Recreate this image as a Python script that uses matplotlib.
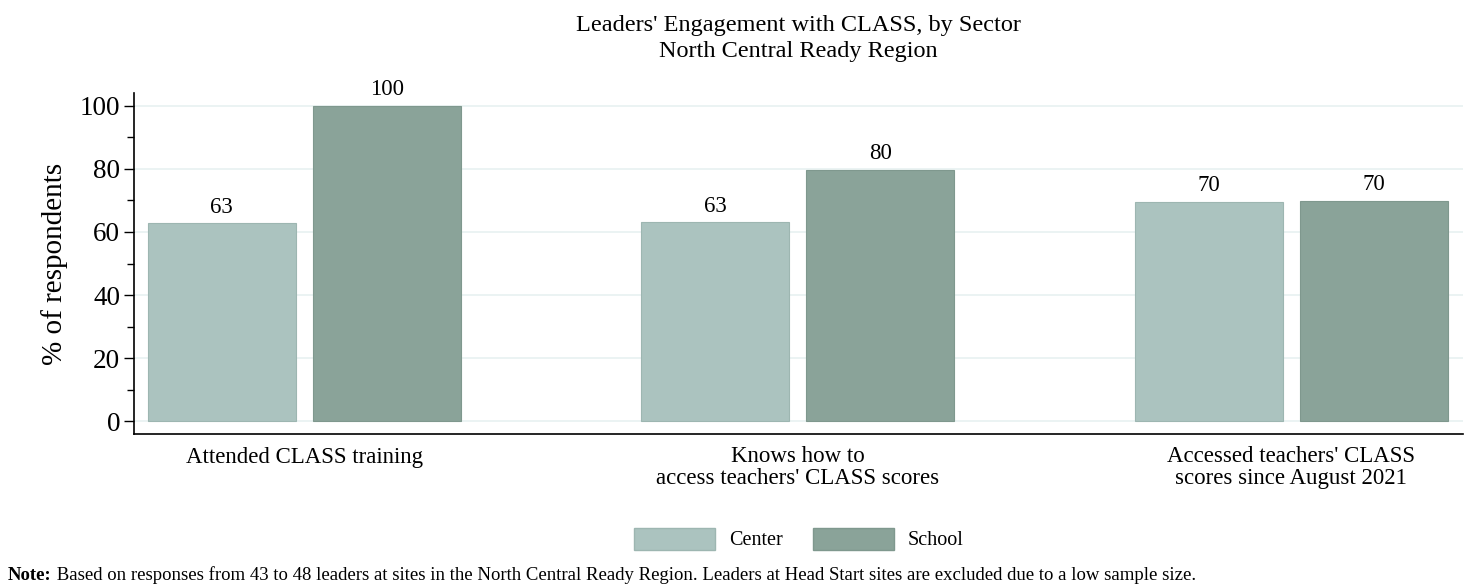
import numpy as np
import matplotlib
matplotlib.use("Agg")
import matplotlib.pyplot as plt
from matplotlib.patches import Patch

plt.rcParams['font.family'] = ['Liberation Serif', 'DejaVu Serif']

# data
categories = ["Attended CLASS training",
              "Knows how to\naccess teachers' CLASS scores",
              "Accessed teachers' CLASS\nscores since August 2021"]
center_vals = [62.7, 63.0, 69.6]
school_vals = [100.0, 79.7, 69.9]
series_names = ["Center", "School"]
note_head = "Note:"
note_body = (" Based on responses from 43 to 48 leaders at sites in the North Central Ready Region. "
             "Leaders at Head Start sites are excluded due to a low sample size.")

c_center = "#abc3bf"
c_school = "#8aa399"

W, H = 1473, 586
fig = plt.figure(figsize=(W/100, H/100), dpi=100)
ax = fig.add_axes([134/W, 1 - 434/H, (1463-134)/W, (434-93)/H])

x = np.arange(len(categories))
bw = 0.30
off = 0.167
b1 = ax.bar(x - off, center_vals, bw, color=c_center, edgecolor="#9db6b1", linewidth=0.8, zorder=2)
b2 = ax.bar(x + off, school_vals, bw, color=c_school, edgecolor="#7f988e", linewidth=0.8, zorder=2)

for bars, vals in ((b1, center_vals), (b2, school_vals)):
    for b, v in zip(bars, vals):
        ax.text(b.get_x() + b.get_width()/2, v + 1.8, f"{v:.0f}",
                ha="center", va="bottom", fontsize=16.5)

ax.set_xlim(-0.345, 2.348)
ax.set_ylim(-4, 104)
ax.set_yticks(np.arange(0, 101, 20))
ax.set_yticks(np.arange(10, 100, 20), minor=True)
ax.tick_params(axis="y", which="major", labelsize=19.5, length=7, width=1, pad=3)
ax.tick_params(axis="y", which="minor", length=5, width=1)
ax.set_xticks(x)
ax.set_xticklabels(categories, fontsize=16.5, linespacing=1.05)
ax.tick_params(axis="x", length=0, pad=9)
ax.grid(axis="y", color="#e8f1f1", linewidth=1.2, zorder=0)
ax.set_axisbelow(True)
for s in ("top", "right"):
    ax.spines[s].set_visible(False)
ax.spines["left"].set_linewidth(1.2)
ax.spines["bottom"].set_linewidth(1.2)
ax.set_ylabel("% of respondents", fontsize=21, labelpad=8)

fig.text(798/W, 1 - 26/H, "Leaders' Engagement with CLASS, by Sector",
         ha="center", va="center", fontsize=17.5)
fig.text(798/W, 1 - 51/H, "North Central Ready Region",
         ha="center", va="center", fontsize=17.5)

handles = [Patch(facecolor=c_center, edgecolor="#9db6b1"),
           Patch(facecolor=c_school, edgecolor="#7f988e")]
fig.legend(handles, series_names, loc="center", bbox_to_anchor=(799/W, 1 - 539/H),
           ncol=2, frameon=False, fontsize=14.5, handlelength=4.0, handleheight=1.3,
           columnspacing=1.5, handletextpad=0.7)

# note line: bold head then normal body
t_head = fig.text(8/W, 1 - 575/H, note_head, ha="left", va="center",
                  fontsize=13.5, fontweight="bold")
fig.canvas.draw()
bb = t_head.get_window_extent(renderer=fig.canvas.get_renderer())
fig.text(bb.x1/W, 1 - 575/H, note_body, ha="left", va="center", fontsize=13.5)

fig.savefig("out.png", dpi=100)
